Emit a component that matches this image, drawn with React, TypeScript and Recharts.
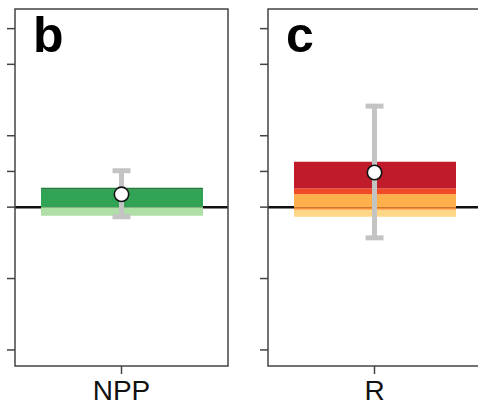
import React from "react";
import {
  ComposedChart,
  Bar,
  Scatter,
  ErrorBar,
  XAxis,
  YAxis,
  ReferenceLine,
  ReferenceArea,
} from "recharts";

const categories = ["NPP", "R"];
const panelLabels = ["b", "c"];
const yTicks = [-4, -2, 0, 1, 2, 4, 5];
const yDomain = [-4.45, 5.55];

// stacked pieces, bottom-up for positives then down from zero for negatives
const nppSegments = [0.49, 0.05, -0.24];
const nppColors = ["#31a354", "#1d7f3a", "#afdea7"];
const rSegments = [0.36, 0.16, 0.75, -0.07, -0.2];
const rColors = ["#fdb04b", "#f14b25", "#bf1b2b", "#f98e35", "#fed886"];

const means = [0.36, 0.97];
const errLow = [0.63, 1.83];
const errHigh = [0.66, 1.86];

const FONT = '"Liberation Sans", Arial, Helvetica, sans-serif';
const BORDER = "#444";

function Dot(props: any) {
  const { cx, cy } = props;
  if (cx == null || cy == null) return null;
  return <circle cx={cx} cy={cy} r={7.2} fill="#fff" stroke="#111" strokeWidth={1.6} />;
}

function CatTick({ x, y, payload }: any) {
  return (
    <text x={x} y={y} dy={24} textAnchor="middle" fontFamily={FONT} fontSize={28} fill="#111">
      {payload.value}
    </text>
  );
}

// y ticks carry no labels, only the tick marks
const NoLabel = () => <g />;

function Panel({ idx, segments, colors, left }: { idx: number; segments: number[]; colors: string[]; left: number }) {
  const row: any = { name: categories[idx], mean: means[idx], err: [errLow[idx], errHigh[idx]] };
  segments.forEach((v, i) => (row["s" + i] = v));
  const data = [row];

  return (
    <div style={{ position: "absolute", left, top: 0, width: 240, height: 407 }}>
      <ComposedChart width={240} height={407} data={data} stackOffset="sign" margin={{ top: 9, right: 12, left: 0, bottom: 0 }}>
        <XAxis
          dataKey="name"
          type="category"
          height={41}
          axisLine={false}
          tickSize={8}
          tickLine={{ stroke: BORDER, strokeWidth: 1.5 }}
          tick={<CatTick />}
        />
        <YAxis
          type="number"
          width={15}
          domain={yDomain}
          ticks={yTicks}
          allowDataOverflow
          axisLine={false}
          tickSize={8}
          tickLine={{ stroke: BORDER, strokeWidth: 1.5 }}
          tick={<NoLabel />}
        />
        <ReferenceArea y1={yDomain[0]} y2={yDomain[1]} fill="none" stroke={BORDER} strokeWidth={1.5} ifOverflow="visible" />
        <ReferenceLine y={0} stroke="#111" strokeWidth={2.5} zIndex={0} />
        {segments.map((_, i) => (
          <Bar key={i} dataKey={"s" + i} stackId="a" fill={colors[i]} barSize={162} isAnimationActive={false} />
        ))}
        <Scatter dataKey="mean" shape={<Dot />} isAnimationActive={false}>
          <ErrorBar dataKey="err" direction="y" width={9} strokeWidth={5} stroke="#c4c4c4" />
        </Scatter>
      </ComposedChart>
      <svg width={240} height={80} style={{ position: "absolute", left: 0, top: 0, pointerEvents: "none" }}>
        <text x={33} y={52} fontFamily={FONT} fontWeight="bold" fontSize={50} fill="#000">
          {panelLabels[idx]}
        </text>
      </svg>
    </div>
  );
}

export default function App() {
  return (
    <div style={{ position: "absolute", left: 0, top: 0, width: 478, height: 407, overflow: "hidden", background: "#fff" }}>
      <Panel idx={0} segments={nppSegments} colors={nppColors} left={0} />
      <Panel idx={1} segments={rSegments} colors={rColors} left={252.7} />
    </div>
  );
}
